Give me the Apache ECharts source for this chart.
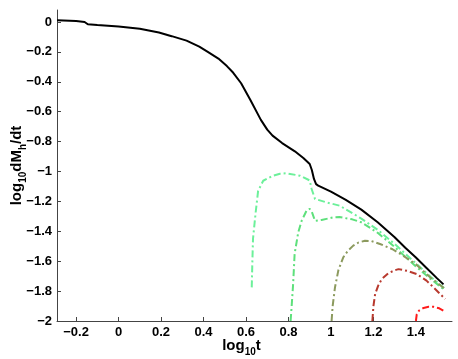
<!DOCTYPE html>
<html>
<head>
<meta charset="utf-8">
<script src="https://cdn.jsdelivr.net/npm/echarts@6/dist/echarts.min.js"></script>
<style>
  html, body { margin: 0; padding: 0; background: #fff; }
  #chart { width: 458px; height: 359px; }
</style>
</head>
<body>
<div id="chart"></div>
<script>
// black total curve [log10 t, log10 dMh/dt]
const totalCurve = [
  [-0.29, 0.012], [-0.2, 0.006], [-0.16, 0.0], [-0.145, -0.015], [-0.1, -0.02],
  [0, -0.03], [0.1, -0.045], [0.19, -0.07], [0.25, -0.095], [0.32, -0.125],
  [0.38, -0.165], [0.42, -0.2], [0.47, -0.245], [0.51, -0.295], [0.54, -0.34],
  [0.577, -0.41], [0.62, -0.52], [0.67, -0.655], [0.70, -0.72], [0.725, -0.76],
  [0.77, -0.81], [0.83, -0.865], [0.87, -0.91], [0.9, -0.95], [0.91, -0.99],
  [0.92, -1.05], [0.93, -1.085], [0.94, -1.095], [1.0, -1.135], [1.07, -1.19],
  [1.143, -1.255], [1.22, -1.34], [1.30, -1.44], [1.35, -1.51], [1.40, -1.575],
  [1.45, -1.645], [1.50, -1.715], [1.53, -1.755]
]
const green1 = [
  [0.627, -1.775], [0.63, -1.6], [0.633, -1.45], [0.645, -1.28], [0.657, -1.13],
  [0.681, -1.062], [0.728, -1.028], [0.76, -1.015], [0.79, -1.012], [0.854, -1.028],
  [0.9, -1.06], [0.909, -1.117], [0.925, -1.184], [0.98, -1.207], [1.042, -1.229],
  [1.143, -1.315], [1.22, -1.39], [1.30, -1.485], [1.40, -1.615], [1.47, -1.705],
  [1.533, -1.78]
]
const green2 = [
  [0.81, -2.0], [0.815, -1.9], [0.822, -1.75], [0.829, -1.55], [0.846, -1.407],
  [0.862, -1.33], [0.885, -1.262], [0.9, -1.25], [0.91, -1.27], [0.925, -1.33],
  [0.956, -1.324], [1.011, -1.307], [1.04, -1.305], [1.1, -1.32], [1.143, -1.34],
  [1.22, -1.41], [1.30, -1.505], [1.40, -1.635], [1.47, -1.72], [1.533, -1.79]
]
const olive = [
  [1.003, -2.0], [1.008, -1.9], [1.019, -1.775], [1.035, -1.66], [1.058, -1.574],
  [1.08, -1.53], [1.105, -1.496], [1.13, -1.475], [1.16, -1.463], [1.19, -1.465],
  [1.231, -1.485], [1.29, -1.52], [1.341, -1.564], [1.40, -1.62], [1.467, -1.707],
  [1.538, -1.786]
]
const redDark = [
  [1.195, -2.0], [1.2, -1.9], [1.208, -1.82], [1.222, -1.765], [1.239, -1.72],
  [1.27, -1.68], [1.302, -1.66], [1.318, -1.653], [1.36, -1.665], [1.404, -1.686],
  [1.45, -1.73], [1.483, -1.775], [1.538, -1.853]
]
const redBright = [
  [1.40, -2.0], [1.404, -1.955], [1.415, -1.93], [1.436, -1.913], [1.46, -1.905],
  [1.483, -1.905], [1.51, -1.915], [1.535, -1.935]
]
const xTicks = [-0.2, 0, 0.2, 0.4, 0.6, 0.8, 1, 1.2, 1.4]
const yTicks = [-2, -1.8, -1.6, -1.4, -1.2, -1, -0.8, -0.6, -0.4, -0.2, 0]

const chart = echarts.init(document.getElementById('chart'))
const font = 'Liberation Sans, Arial, sans-serif'
const minus = v => String(v).replace('-', '\u2212')
const nameRich = {
  m: { fontSize: 15, fontWeight: 'bold', fontFamily: font, color: '#000', verticalAlign: 'top', lineHeight: 16 },
  s: { fontSize: 10, fontWeight: 'bold', fontFamily: font, color: '#000', verticalAlign: 'top', lineHeight: 10, padding: [9, 0, 0, 0] }
}
const dashDot = [7, 3, 2, 3]

function curve(data, color, dashed) {
  return {
    type: 'line',
    data: data,
    showSymbol: false,
    lineStyle: { color: color, width: 2, type: dashed ? dashDot : 'solid' },
    z: dashed ? 2 : 3
  }
}

chart.setOption({
  animation: false,
  grid: { left: 57, right: 6, top: 10, bottom: 38, outerBoundsMode: 'none' },
  xAxis: {
    type: 'value',
    min: -0.29,
    max: 1.57,
    name: '{m|log}{s|10}{m|t}',
    nameLocation: 'middle',
    nameGap: 17,
    nameMoveOverlap: false,
    nameTextStyle: { rich: nameRich, padding: [0, 26, 0, 0] },
    splitLine: { show: false },
    axisLine: { onZero: false, lineStyle: { color: '#444', width: 1 } },
    axisTick: { inside: true, length: 4, customValues: xTicks, lineStyle: { color: '#444' } },
    axisLabel: {
      customValues: xTicks,
      formatter: minus,
      color: '#000', fontSize: 13, fontWeight: 'bold', fontFamily: font, margin: 5
    }
  },
  yAxis: {
    type: 'value',
    min: -2,
    max: 0.08,
    name: '{m|log}{s|10}{m|dM}{s|h}{m|/dt}',
    nameLocation: 'middle',
    nameGap: 32,
    nameRotate: 90,
    nameMoveOverlap: false,
    nameTextStyle: { rich: nameRich },
    splitLine: { show: false },
    axisLine: { show: true, onZero: false, lineStyle: { color: '#444', width: 1 } },
    axisTick: { show: true, inside: true, length: 4, customValues: yTicks, lineStyle: { color: '#444' } },
    axisLabel: {
      customValues: yTicks,
      formatter: minus,
      color: '#000', fontSize: 13, fontWeight: 'bold', fontFamily: font, margin: 5
    }
  },
  series: [
    curve(totalCurve, '#000000', false),
    curve(green1, '#6cf09a', true),
    curve(green2, '#5ee07c', true),
    curve(olive, '#8c9a5e', true),
    curve(redDark, '#b8392e', true),
    curve(redBright, '#ff1a1a', true)
  ]
})
</script>
</body>
</html>
